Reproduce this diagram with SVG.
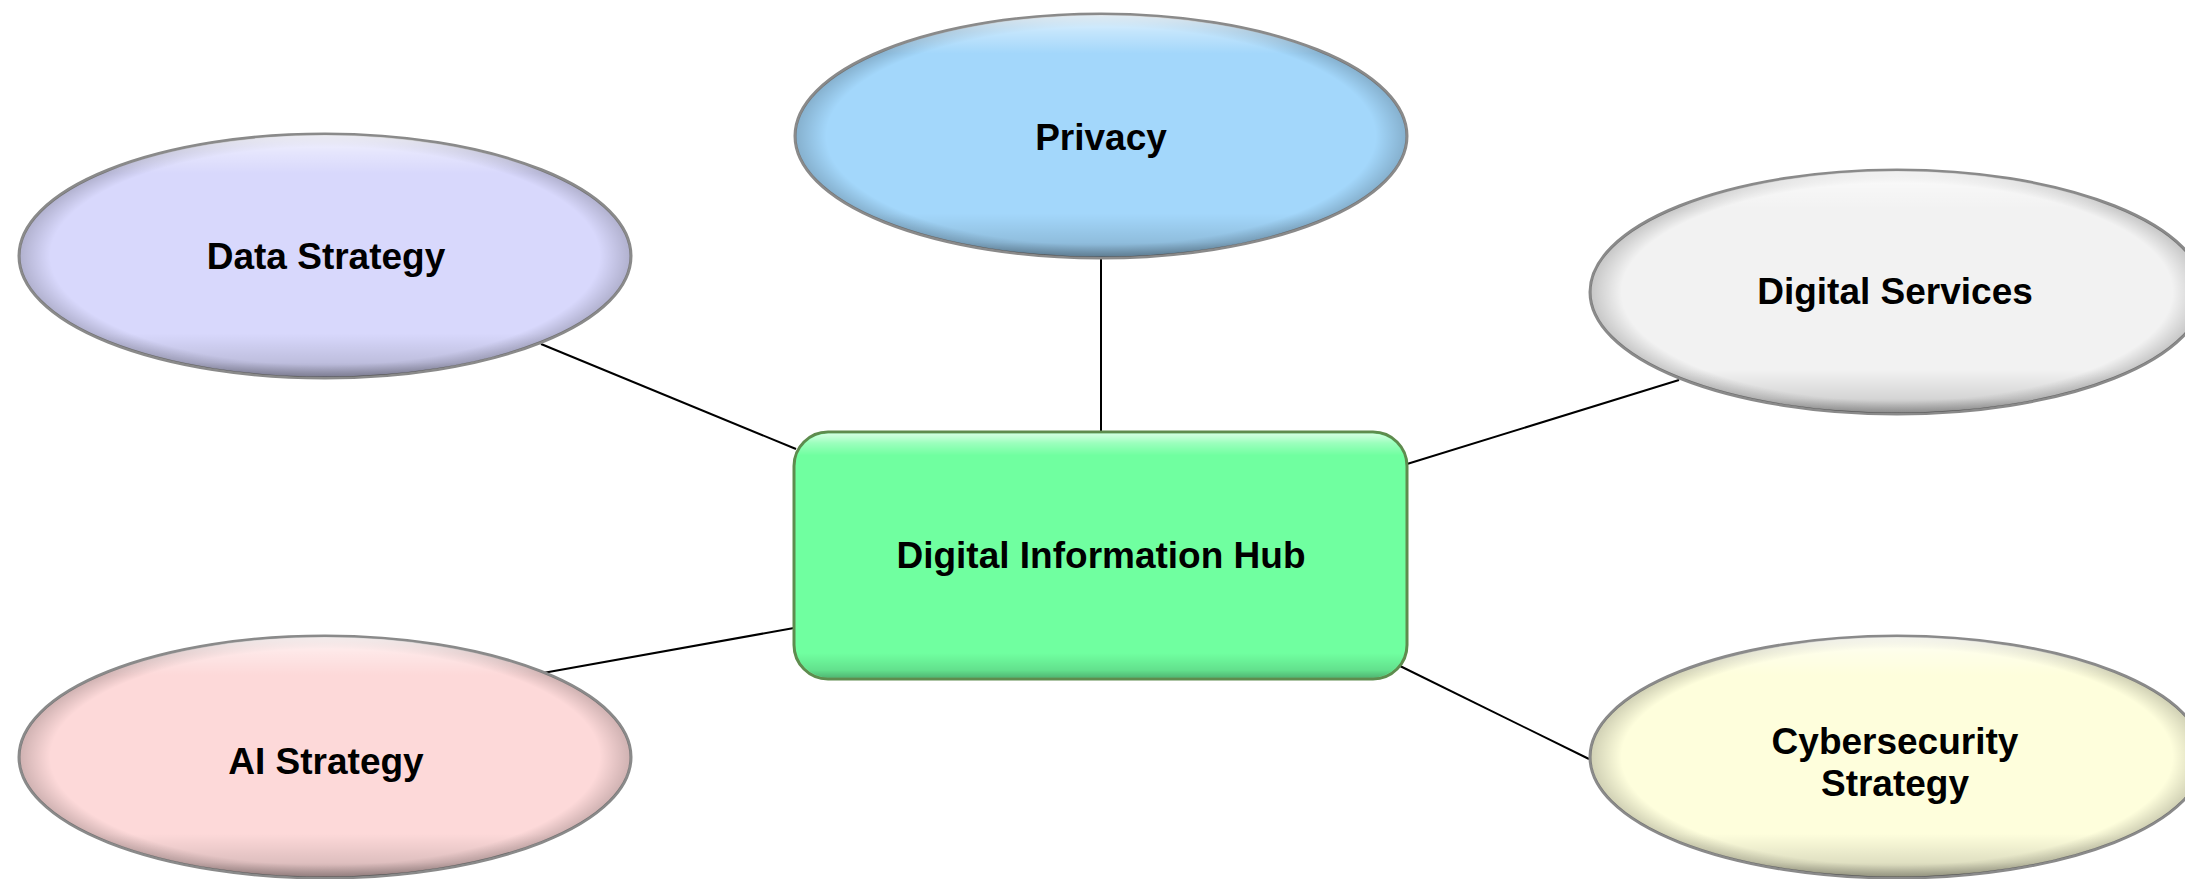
<svg xmlns="http://www.w3.org/2000/svg" width="2185" height="879" viewBox="0 0 2185 879">
<defs>
<linearGradient id="hi" x1="0" y1="0" x2="0" y2="1">
<stop offset="0" stop-color="#ffffff" stop-opacity="0.75"/>
<stop offset="0.07" stop-color="#ffffff" stop-opacity="0.35"/>
<stop offset="0.16" stop-color="#ffffff" stop-opacity="0"/>
<stop offset="0.82" stop-color="#000000" stop-opacity="0"/>
<stop offset="0.94" stop-color="#000000" stop-opacity="0.12"/>
<stop offset="1" stop-color="#000000" stop-opacity="0.3"/>
</linearGradient>
<linearGradient id="hiR" x1="0" y1="0" x2="0" y2="1">
<stop offset="0" stop-color="#ffffff" stop-opacity="0.7"/>
<stop offset="0.04" stop-color="#ffffff" stop-opacity="0.3"/>
<stop offset="0.09" stop-color="#ffffff" stop-opacity="0"/>
<stop offset="0.9" stop-color="#000000" stop-opacity="0"/>
<stop offset="0.97" stop-color="#000000" stop-opacity="0.12"/>
<stop offset="1" stop-color="#000000" stop-opacity="0.28"/>
</linearGradient>
<radialGradient id="edge" cx="0.5" cy="0.5" r="0.5">
<stop offset="0.9" stop-color="#000000" stop-opacity="0"/>
<stop offset="1" stop-color="#000000" stop-opacity="0.18"/>
</radialGradient>
</defs>
<style>
.lbl{font-family:"Liberation Sans",Arial,sans-serif;font-weight:bold;font-size:37px;fill:#000;text-anchor:middle}
.ell{stroke:#8a8a8a;stroke-width:3}
.ov{fill:url(#hi);stroke:none}
.ed{fill:url(#edge);stroke:none}
.conn line{stroke:#000;stroke-width:2}
</style>
<rect width="2185" height="879" fill="#ffffff"/>
<g id="connectors" class="conn">
<line x1="1101" y1="258" x2="1101" y2="432"/>
<line x1="541" y1="344" x2="796" y2="449"/>
<line x1="1679" y1="380" x2="1407" y2="464"/>
<line x1="543" y1="673" x2="794" y2="628"/>
<line x1="1589" y1="759" x2="1398" y2="665"/>
</g>
<g id="node-privacy">
<ellipse class="ell" cx="1101" cy="136" rx="306" ry="122" fill="#a3d7fb"/>
<ellipse class="ed" cx="1101" cy="136" rx="305" ry="121"/>
<ellipse class="ov" cx="1101" cy="136" rx="305" ry="121"/>
<text class="lbl" x="1101" y="150">Privacy</text>
</g>
<g id="node-data-strategy">
<ellipse class="ell" cx="325" cy="256" rx="306" ry="122" fill="#d8d8fc"/>
<ellipse class="ed" cx="325" cy="256" rx="305" ry="121"/>
<ellipse class="ov" cx="325" cy="256" rx="305" ry="121"/>
<text class="lbl" x="326" y="269">Data Strategy</text>
</g>
<g id="node-digital-services">
<ellipse class="ell" cx="1897" cy="292" rx="307" ry="122" fill="#f2f2f2"/>
<ellipse class="ed" cx="1897" cy="292" rx="306" ry="121"/>
<ellipse class="ov" cx="1897" cy="292" rx="306" ry="121"/>
<text class="lbl" x="1895" y="304">Digital Services</text>
</g>
<g id="node-ai-strategy">
<ellipse class="ell" cx="325" cy="757" rx="306" ry="121" fill="#fdd9d9"/>
<ellipse class="ed" cx="325" cy="757" rx="305" ry="120"/>
<ellipse class="ov" cx="325" cy="757" rx="305" ry="120"/>
<text class="lbl" x="326" y="774">AI Strategy</text>
</g>
<g id="node-cybersecurity-strategy">
<ellipse class="ell" cx="1897" cy="757" rx="307" ry="121" fill="#fefedc"/>
<ellipse class="ed" cx="1897" cy="757" rx="306" ry="120"/>
<ellipse class="ov" cx="1897" cy="757" rx="306" ry="120"/>
<text class="lbl" x="1895" y="754">Cybersecurity</text>
<text class="lbl" x="1895" y="796">Strategy</text>
</g>
<g id="node-hub">
<rect x="794" y="432" width="613" height="247" rx="34" fill="#70ffa0" stroke="#5e8c4e" stroke-width="3"/>
<rect x="795.5" y="433.5" width="610" height="244" rx="33" fill="url(#hiR)"/>
<text class="lbl" x="1101" y="568">Digital Information Hub</text>
</g>
</svg>
